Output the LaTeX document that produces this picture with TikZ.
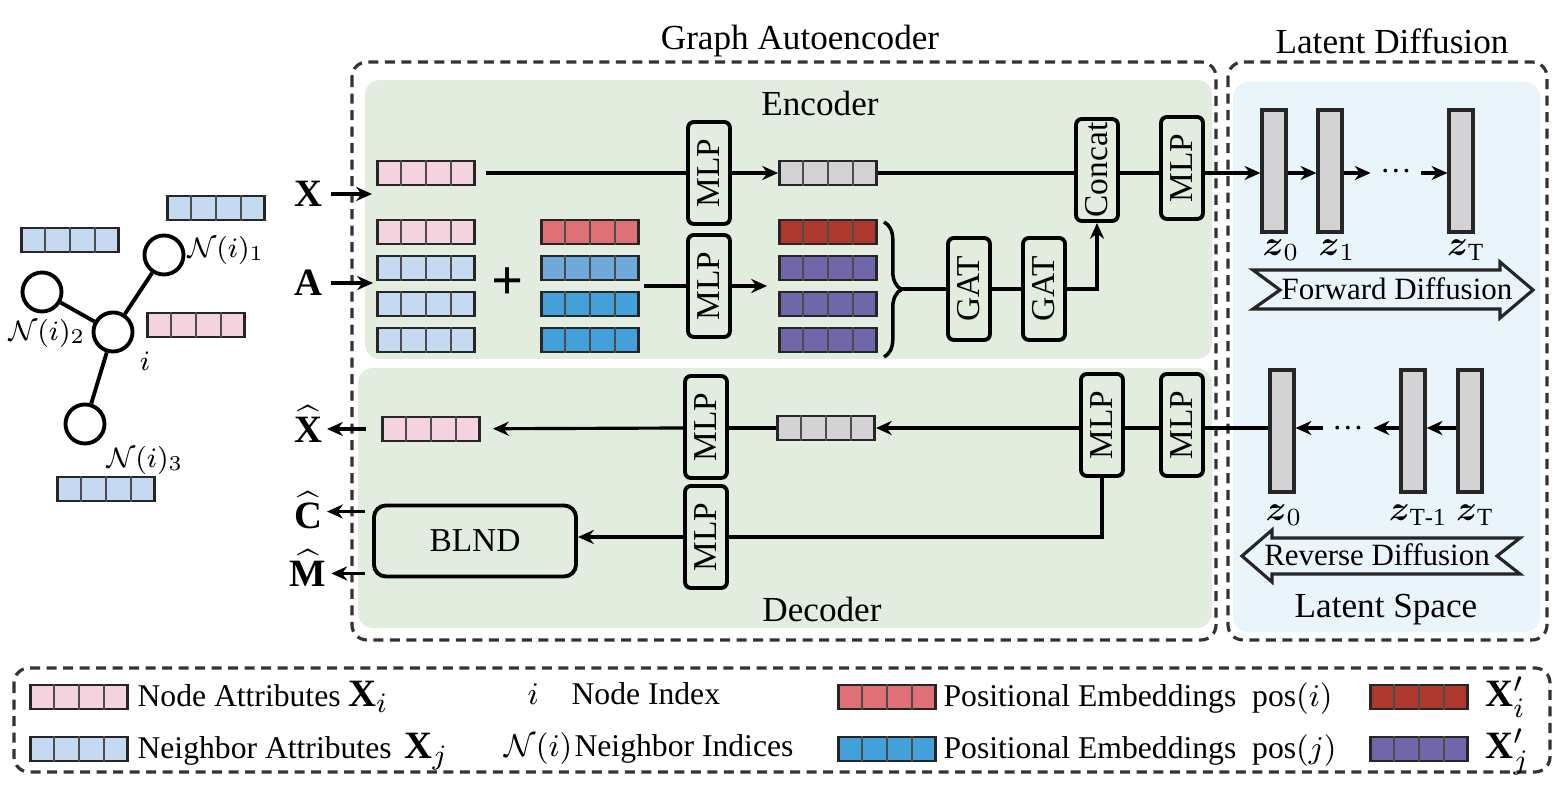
\documentclass[tikz,border=0pt]{standalone}
\usepackage{fontspec}
\setmainfont{Liberation Serif}
\usepackage{amsmath}
\usetikzlibrary{arrows.meta,calc,positioning,decorations.pathreplacing}

\definecolor{encgreen}{RGB}{226,237,223}
\definecolor{latblue}{RGB}{233,244,251}
\definecolor{bargray}{RGB}{211,211,213}
\definecolor{nodepink}{RGB}{243,212,222}
\definecolor{nbrblue}{RGB}{197,218,240}
\definecolor{posred}{RGB}{224,112,120}
\definecolor{posbluea}{RGB}{111,168,218}
\definecolor{posblue}{RGB}{67,160,219}
\definecolor{outred}{RGB}{174,56,46}
\definecolor{outpurple}{RGB}{112,103,171}

\newcommand{\featbar}[3]{%
  \node[featbox, fill=#3] (#1) at (#2) {};
  \foreach \k in {1,2,3}
    \draw[celldiv] ($(#1.north west)!\k/4!(#1.north east)$) -- ($(#1.south west)!\k/4!(#1.south east)$);
}

\begin{document}
\begin{tikzpicture}[x=0.01cm, y=-0.01cm, line width=0.9pt, >={Stealth[length=4.5pt,width=4pt]}]
\tikzstyle{featbox}=[draw=black!85, line width=0.8pt, minimum width=0.97cm, minimum height=0.24cm, inner sep=0pt]
\tikzstyle{celldiv}=[draw=black!70, line width=0.7pt]
\tikzstyle{blk}=[draw, line width=1.1pt, rounded corners=0.06cm, fill=encgreen, minimum width=0.42cm, minimum height=1.02cm, inner sep=0pt, font=\fontsize{9.5}{10}\selectfont]
\tikzstyle{zbar}=[draw=black!85, line width=0.9pt, fill=bargray, minimum width=0.24cm, minimum height=1.22cm, inner sep=0pt]
\tikzstyle{gnode}=[circle, draw, line width=1.1pt, fill=white, minimum size=0.39cm, inner sep=0pt]
\tikzstyle{glab}=[font=\fontsize{8}{9}\selectfont, inner sep=1pt]
\tikzstyle{panel}=[rounded corners=0.15cm]
\tikzstyle{dashframe}=[draw=black!80, line width=0.9pt, dash pattern=on 0.1cm off 0.065cm, rounded corners=0.15cm]
\tikzstyle{ttl}=[font=\fontsize{10}{12}\selectfont]
\tikzstyle{io}=[font=\fontsize{11}{13}\selectfont, inner sep=1pt]
\tikzstyle{flow}=[draw=black!85, line width=0.9pt, fill=latblue]
\tikzstyle{flowtxt}=[font=\fontsize{8.8}{10}\selectfont, inner sep=0pt]
\tikzstyle{dotsn}=[inner sep=0.02cm, font=\fontsize{9}{10}\selectfont]
\tikzstyle{leg}=[anchor=west, inner sep=0pt, font=\fontsize{9}{11}\selectfont, text height=1.7ex, text depth=0.5ex]

\useasboundingbox (0,0) rectangle (1566,792);

% panels and frames
\fill[encgreen, panel] (365,80) rectangle (1212,359);
\fill[encgreen, panel] (358,368) rectangle (1212,628);
\fill[latblue, panel] (1233,82) rectangle (1540,632);
\draw[dashframe] (352,62) rectangle (1216,640);
\draw[dashframe] (1228,62) rectangle (1547,640);
\draw[dashframe] (14,668) rectangle (1550,772);

\node[ttl] (gae) at (800,41) {Graph Autoencoder};
\node[ttl] (ldif) at (1392,41) {Latent Diffusion};
\node[ttl] (enc) at (820,103) {Encoder};
\node[ttl] (dec) at (822,609) {Decoder};
\node[ttl] (lsp) at (1386,610) {Latent Space};

% input graph
\node[gnode] (ni) at (113,332) {};
\node[gnode] (n1) at (164,255) {};
\node[gnode] (n2) at (42,292) {};
\node[gnode] (n3) at (85,424) {};
\draw[line width=1.1pt] (ni) -- (n1) (ni) -- (n2) (ni) -- (n3);
\node[glab] (ln1) at (226,250) {$\mathcal{N}(i)_1$};
\node[glab] (ln2) at (47,333) {$\mathcal{N}(i)_2$};
\node[glab] (lni) at (145,361) {$i$};
\node[glab] (ln3) at (145,460) {$\mathcal{N}(i)_3$};
\featbar{ga1}{216,208}{nbrblue}
\featbar{ga2}{70,240}{nbrblue}
\featbar{ga3}{196,325}{nodepink}
\featbar{ga4}{106,489}{nbrblue}

% encoder
\node[io] (xl) at (308,194) {$\mathbf{X}$};
\node[io] (al) at (308,283) {$\mathbf{A}$};
\coordinate (xin) at (372,194);
\coordinate (ain) at (373,283);
\draw[->, shorten <=0.04cm] (xl) -- (xin);
\draw[->, shorten <=0.04cm] (al) -- (ain);

\featbar{xb}{426,173}{nodepink}
\node[blk] (mlpe1) at (709,173) {\rotatebox{90}{MLP}};
\featbar{ge}{828,173}{bargray}
\node[blk] (cat) at (1097,170) {\rotatebox{90}{Concat}};
\node[blk] (mlpe3) at (1182,168) {\rotatebox{90}{MLP}};
\node[zbar] (fz0) at (1274,171) {};
\node[zbar] (fz1) at (1330,171) {};
\node[dotsn] (fdots) at (1396,171) {…};
\node[zbar] (fzT) at (1461,171) {};

\draw[shorten <=0.1cm] (xb) -- (mlpe1);
\draw[->] (mlpe1) -- (ge);
\draw (ge) -- (cat.west |- ge);
\draw (cat.east |- ge) -- (mlpe3.west |- ge);
\draw[->] (mlpe3.east |- ge) -- (fz0.west |- ge);
\draw[->] (fz0.east |- ge) -- (fz1.west |- ge);
\draw[->, shorten >=0.06cm] (fz1.east |- ge) -- (fdots.west |- ge);
\draw[->, shorten <=0.06cm] (fdots.east |- ge) -- (fzT.west |- ge);

\featbar{lp}{426,232}{nodepink}
\featbar{lb1}{426,268}{nbrblue}
\featbar{lb2}{426,304}{nbrblue}
\featbar{lb3}{426,340}{nbrblue}
\node (plus) at (508,284) {\fontsize{16}{16}\selectfont\textbf{+}};
\featbar{pr}{590,232}{posred}
\featbar{pb1}{590,268}{posbluea}
\featbar{pb2}{590,304}{posblue}
\featbar{pb3}{590,340}{posblue}
\node[blk] (mlpe2) at (709,286) {\rotatebox{90}{MLP}};
\featbar{orr}{828,232}{outred}
\featbar{op1}{828,268}{outpurple}
\featbar{op2}{828,304}{outpurple}
\featbar{op3}{828,340}{outpurple}
\coordinate (pmid) at ($(pb1.east)!0.5!(pb2.east)$);
\coordinate (omid) at ($(op1.west)!0.5!(op2.west)$);
\draw[shorten <=0.04cm] (pmid) -- (mlpe2);
\draw[->, shorten >=0.11cm] (mlpe2) -- (omid);

\draw[decorate, decoration={brace, amplitude=5pt}, line width=1pt] (884,222) -- (884,357);
\coordinate (brt) at (901,289);
\node[blk] (gat1) at (969,289) {\rotatebox{90}{GAT}};
\node[blk] (gat2) at (1044,289) {\rotatebox{90}{GAT}};
\draw (brt) -- (gat1);
\draw (gat1) -- (gat2);
\draw[->] (gat2) -| (cat);

\draw[flow] (1253,270) -- (1500,270) -- (1500,262) -- (1533,290) -- (1500,318) -- (1500,309) -- (1253,309) -- (1280,290) -- cycle;
\node[flowtxt] (fwd) at (1397,289) {Forward Diffusion};
\node (lz0) at (1281,250) {$\boldsymbol{z}_0$};
\node (lz1) at (1337,250) {$\boldsymbol{z}_1$};
\node (lzT) at (1466,250) {$\boldsymbol{z}_{\mathrm{T}}$};

% decoder
\node[io] (xh) at (308,424) {$\widehat{\mathbf{X}}$};
\node[io] (ch) at (308,510) {$\widehat{\mathbf{C}}$};
\node[io] (mh) at (308,568) {$\widehat{\mathbf{M}}$};
\featbar{dxb}{431,429}{nodepink}
\node[blk] (mlpd1) at (706,427) {\rotatebox{90}{MLP}};
\featbar{dg}{826,428}{bargray}
\node[blk] (mlpd2) at (1102,425) {\rotatebox{90}{MLP}};
\node[blk] (mlpd3) at (1182,425) {\rotatebox{90}{MLP}};
\node[zbar] (rz0) at (1282,431) {};
\node[dotsn] (rdots) at (1348,428) {…};
\node[zbar] (rzT1) at (1413,431) {};
\node[zbar] (rzT) at (1470,431) {};

\draw (rz0.west |- dg) -- (mlpd3.east |- dg);
\draw (mlpd3.west |- dg) -- (mlpd2.east |- dg);
\draw[->] (mlpd2.west |- dg) -- (dg);
\draw (dg) -- (mlpd1.east |- dg);
\draw[->, shorten >=0.12cm] (mlpd1.west |- dg) -- (dxb);
\draw[->, shorten <=0.15cm] (dxb.west) -- (dxb.west -| xh.east);
\draw[->] (rzT.west |- dg) -- (rzT1.east |- dg);
\draw[->, shorten >=0.06cm] (rzT1.west |- dg) -- (rdots.east |- dg);
\draw[->, shorten <=0.06cm] (rdots.west |- dg) -- (rz0.east |- dg);

\node[blk] (mlpd4) at (706,537) {\rotatebox{90}{MLP}};
\node[draw, line width=1.1pt, rounded corners=0.12cm, fill=encgreen, minimum width=2.02cm, minimum height=0.71cm, font=\fontsize{9.5}{11}\selectfont] (blnd) at (475,541) {BLND};
\draw (mlpd2.south) |- (mlpd4);
\draw[->] (mlpd4) -- (mlpd4 -| blnd.east);
\draw[->] ($(blnd.north west)+(-7,8)$) coordinate (cst) -- (cst -| ch.east);
\draw[->] ($(blnd.south west)+(-7,-5)$) coordinate (mst) -- (mst -| mh.east);

\draw[flow] (1520,538) -- (1272,538) -- (1272,530) -- (1242,556) -- (1272,582) -- (1272,574) -- (1520,574) -- (1497,556) -- cycle;
\node[flowtxt] (rev) at (1377,555) {Reverse Diffusion};
\node (rl0) at (1284,515) {$\boldsymbol{z}_0$};
\node (rlT1) at (1418,515) {$\boldsymbol{z}_{\mathrm{T\text{-}1}}$};
\node (rlT) at (1475,515) {$\boldsymbol{z}_{\mathrm{T}}$};

% legend
\featbar{lg1}{79,697}{nodepink}
\node[leg] (lt1) at (136,697) {Node Attributes {\fontsize{11}{12}\selectfont$\mathbf{X}_i$}};
\node[leg] (lt2) at (526,695) {$i$};
\node[leg] (lt3) at (570,695) {Node Index};
\featbar{lg2}{79,749}{nbrblue}
\node[leg] (lt4) at (136,749) {Neighbor Attributes \,{\fontsize{11}{12}\selectfont$\mathbf{X}_j$}};
\node[leg] (lt5) at (503,747) {$\mathcal{N}(i)$};
\node[leg] (lt6) at (573,747) {Neighbor Indices};
\featbar{lg3}{887,697}{posred}
\node[leg] (lt7) at (942,697) {Positional Embeddings \ pos$(i)$};
\featbar{lg4}{887,749}{posblue}
\node[leg] (lt8) at (942,749) {Positional Embeddings \ pos$(j)$};
\featbar{lg5}{1419,697}{outred}
\node[leg] (lt9) at (1484,697) {\fontsize{11}{12}\selectfont$\mathbf{X}'_i$};
\featbar{lg6}{1419,749}{outpurple}
\node[leg] (lt10) at (1484,749) {\fontsize{11}{12}\selectfont$\mathbf{X}'_j$};

\end{tikzpicture}
\end{document}
